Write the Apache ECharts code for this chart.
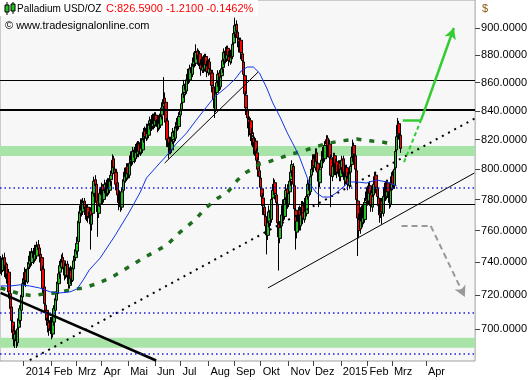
<!DOCTYPE html>
<html><head><meta charset="utf-8">
<script src="https://cdn.jsdelivr.net/npm/echarts@6/dist/echarts.min.js"></script>
<style>html,body{margin:0;padding:0;background:#fff}#c{width:530px;height:380px}</style>
</head><body><div id="c"></div>
<script>
// ---- data ----
const opens=[736,741,735,743,734,739,730,734,721,713,704,699,694,698,692,701,705,711,719,728,729,734,728,737,739,745,740,747,742,749,744,751,749,745,743,736,725,714,711,705,704,699,705,697,704,711,717,721,727,734,737,743,741,737,732,739,732,726,735,729,736,742,743,747,753,765,771,777,772,779,775,770,775,768,773,764,771,784,793,790,779,771,777,783,789,780,787,791,784,792,786,793,797,807,800,798,791,782,779,783,775,786,792,799,794,802,796,805,810,805,813,807,815,810,817,811,819,813,821,826,821,829,823,831,834,829,836,830,837,834,828,835,830,837,843,849,846,833,821,814,819,813,820,826,821,829,833,829,837,841,846,853,859,854,863,867,862,871,866,873,879,874,883,876,881,873,869,877,870,879,872,867,875,869,867,857,847,841,853,861,867,857,865,871,877,883,877,885,879,875,882,879,889,897,903,897,892,885,891,881,875,865,851,841,834,827,833,823,821,814,819,811,805,799,794,787,781,775,769,762,757,766,773,767,781,787,791,783,777,764,755,763,771,777,769,781,787,777,785,793,799,802,789,773,759,767,773,763,771,776,767,779,771,783,791,785,796,801,807,801,811,804,797,791,801,807,813,807,817,821,811,817,807,795,803,809,799,805,797,804,795,801,807,797,792,801,794,789,798,803,809,816,809,799,779,767,761,773,765,775,767,779,786,779,789,783,775,783,791,796,787,781,775,771,779,771,783,789,782,791,784,777,787,796,789,801,813,823,831,823];
const closes=[740,736,742,735,738,731,733,722,712,705,698,695,697,693,700,706,712,720,727,730,733,729,736,740,744,741,746,743,748,745,750,748,744,742,735,724,715,710,706,703,700,704,698,705,712,718,722,728,733,738,742,740,736,733,738,731,727,734,730,737,741,744,748,752,766,772,776,773,778,774,771,774,769,772,765,770,785,792,789,778,772,776,784,788,781,786,790,785,791,787,792,796,806,801,797,790,783,778,782,776,785,793,798,795,801,797,804,809,806,812,808,814,811,816,812,818,814,820,825,822,828,824,830,833,830,835,831,836,833,829,834,831,836,842,848,845,832,820,815,818,814,819,825,822,828,832,830,836,840,845,852,858,855,862,866,863,870,867,872,878,875,882,877,880,874,870,876,871,878,873,868,874,870,866,858,848,842,852,860,866,858,864,870,876,882,878,884,880,876,881,878,888,896,902,898,893,886,890,882,876,866,852,842,835,828,832,824,822,815,818,812,806,800,795,788,782,776,770,763,758,765,772,768,780,786,790,784,778,765,756,762,770,776,770,780,786,778,784,792,798,803,790,774,760,766,772,764,770,775,768,778,772,782,790,786,795,800,806,802,810,805,798,792,800,806,812,808,816,820,812,816,808,796,802,808,800,804,798,803,796,800,806,798,793,800,795,790,797,802,808,815,810,800,780,768,760,772,766,774,768,778,785,780,788,784,776,782,790,795,788,782,776,770,778,772,782,788,783,790,785,778,786,795,790,800,812,822,830,824,814];
const lows=[733,732,734,731,730,727,726,718,709,701,694,690,689,689,690,698,703,709,717,724,726,725,727,733,736,737,738,739,740,741,742,744,740,738,731,720,711,705,702,698,696,697,694,695,702,709,714,719,725,730,735,736,732,729,730,727,724,724,727,728,734,739,741,745,751,762,768,769,770,770,767,766,765,764,748,760,769,782,785,774,756,768,775,780,777,778,784,782,782,783,784,789,795,797,792,786,779,773,775,772,773,783,789,791,792,793,794,801,802,803,804,805,807,808,808,809,810,811,818,818,819,820,821,827,826,827,827,828,829,825,826,827,828,834,840,839,828,815,807,810,810,811,817,818,819,825,826,827,833,838,843,849,851,852,859,859,860,863,864,869,871,872,873,872,870,865,867,867,868,869,864,865,866,861,853,843,835,839,850,857,854,855,861,867,873,874,875,876,872,873,874,877,886,893,893,888,882,882,877,871,861,847,837,830,822,823,819,816,810,809,807,801,795,789,783,776,770,764,757,745,754,762,763,765,777,783,780,773,760,735,752,760,767,766,767,777,774,775,782,789,795,786,770,748,755,763,760,760,767,764,765,768,769,780,782,783,792,797,798,799,801,794,775,788,797,803,804,805,813,808,808,804,775,792,799,796,796,794,795,792,792,797,794,789,790,791,786,787,794,799,805,806,796,776,744,755,758,762,762,764,765,775,776,777,780,772,772,779,787,784,778,772,765,768,764,769,779,779,780,781,774,775,784,786,787,798,810,819,820,811];
const highs=[744,743,745,746,741,740,737,736,724,715,707,702,701,700,703,709,714,722,730,734,737,736,739,743,747,747,749,749,751,751,753,754,751,748,745,738,727,717,713,708,706,707,707,708,714,720,725,731,736,741,745,746,743,740,741,741,735,737,738,740,744,747,751,756,769,775,780,780,781,781,778,777,777,775,775,773,788,795,796,792,781,779,787,791,790,789,793,793,794,794,795,799,810,809,803,800,793,785,786,785,788,796,801,801,804,804,807,812,812,815,815,817,818,819,819,821,821,823,828,829,831,831,833,836,837,838,838,839,839,837,837,838,839,846,864,853,848,835,824,822,822,822,828,829,831,835,836,839,844,849,856,862,862,865,870,870,873,874,876,882,883,888,885,884,883,877,879,880,881,881,876,877,878,873,869,860,851,855,863,869,869,867,873,879,885,886,887,887,883,884,885,891,899,908,906,901,895,893,893,884,877,867,854,845,838,836,835,828,825,822,821,814,808,803,797,790,784,779,773,766,768,776,776,783,790,794,793,786,780,767,766,773,780,780,783,790,790,787,795,801,806,804,792,776,770,775,776,773,779,779,781,782,785,793,794,798,803,810,810,814,814,807,800,803,809,815,816,819,823,823,819,820,810,805,811,811,807,807,806,806,803,809,809,800,803,803,798,800,805,811,820,818,812,802,782,771,775,776,777,778,781,788,789,791,792,786,785,793,798,798,790,784,778,781,781,785,791,792,793,793,787,789,798,799,803,815,825,835,833,826];

// moving averages: [slot, price]
const ma50=[[0,725.6],[8,725.6],[16,726.3],[24,725.6],[32,724.4],[41,722.0],[49,721.4],[57,722.0],[63,723.8],[68,729.3],[73,735.4],[82,742.8],[94,756.6],[106,771.9],[115,784.9],[120,794.1],[128,801.4],[137,809.5],[145,817.6],[153,824.5],[161,833.5],[170,843.3],[176,849.7],[186,856.9],[193,862.6],[198,868.4],[203,871.3],[208,871.3],[213,867.0],[219,856.2],[224,845.5],[230,835.6],[236,824.5],[242,814.9],[246,808.1],[250,799.4],[254,790.8],[260,784.2],[265,781.6],[271,781.6],[276,784.2],[281,787.5],[287,791.5],[293,791.5],[301,790.8],[309,792.8],[318,791.5],[326,788.9]];
const ma200=[[0,724.4],[8,722.6],[16,720.8],[27,719.6],[35,720.8],[46,721.4],[57,723.2],[68,724.4],[79,726.9],[92,731.1],[104,736.6],[115,741.6],[125,745.9],[137,750.9],[147,758.5],[160,766.8],[168,773.9],[179,781.0],[187,784.9],[195,792.8],[201,797.4],[207,800.1],[213,803.4],[220,804.8],[232,808.1],[239,810.2],[246,811.5],[254,813.6],[267,817.0],[279,819.0],[293,820.4],[306,819.0],[314,818.4],[322,817.0]];

// drawn lines (slot, price)
const trendDown=[[0,721.4],[128,681.8]];
const trendUpLow=[[220,724.4],[390,797.5]];
const trendUpMid=[[135,804.1],[212,867.7]];
const trendDotted=[[24,682.0],[390,834.5]];
const greenDash=[[332,804.8],[346,833.5]];
const greenFlat=[[331,833.5],[346,833.5]];
const greenArrow=[[346,833.5],[373,900.2]];
const grayFlat=[[330,762.9],[354,762.9]];
const grayArrow=[[354,762.9],[382,719.0]];

const blackThin=[862,777];
const blackThick=[841];
const blueDotted=[787.5,709.4,685.6];
const bands=[[815.6,808.8],[694.9,689.1]];

const yTicks=[700,720,740,760,780,800,820,840,860,880,900];
const tickMonths=['2014-01','2014-02','2014-03','2014-04','2014-05','2014-06','2014-07','2014-08','2014-09','2014-10','2014-11','2014-12','2015-01','2015-02','2015-03','2015-04'];
const tickLabels=['2014','Feb','Mrz','Apr','Mai','Jun','Jul','Aug','Sep','Okt','Nov','Dez','2015','Feb','Mrz','Apr'];
const yMin=681.5, yMax=921.5;
const totalSlots=391;

// ---- build ----
const L=Math.log;
const cats=[];
let d=new Date(Date.UTC(2013,11,5));
while(cats.length<totalSlots){
  const wd=d.getUTCDay();
  if(cats.length>=closes.length || (wd!==0 && wd!==6)) cats.push(d.toISOString().slice(0,10));
  d=new Date(d.getTime()+86400000);
}
const tickMap={}; const seen={};
cats.forEach((c,i)=>{const ym=c.slice(0,7); if(!seen[ym]){seen[ym]=1; const k=tickMonths.indexOf(ym); if(k>=0) tickMap[i]=tickLabels[k];}});
const candle=closes.map((c,i)=>[L(opens[i]),L(c),L(lows[i]),L(highs[i])]);
const P=a=>a.map(p=>[p[0],L(p[1])]);
const seg=(a,style,arrow)=>[{coord:[a[0][0],L(a[0][1])],symbol:'none',lineStyle:style},{coord:[a[1][0],L(a[1][1])],symbol:arrow?'arrow':'none'}];
const lineS=(data,style,z)=>({type:'line',data:P(data),symbol:'none',silent:true,lineStyle:style,z:z||4});

const chart=echarts.init(document.getElementById('c'),null,{renderer:'canvas'});
chart.setOption({
  animation:false,
  backgroundColor:'#ffffff',
  textStyle:{fontFamily:'Liberation Sans'},
  grid:{left:0,top:0,width:476,height:361,show:true,backgroundColor:'#f7f7f7',borderColor:'#a0a0a0',borderWidth:1},
  xAxis:{type:'category',data:cats,boundaryGap:true,
    axisLine:{show:false},splitLine:{show:false},
    axisTick:{show:true,interval:(i)=>tickMap[i]!==undefined,alignWithLabel:true,length:5,lineStyle:{color:'#444'}},
    axisLabel:{interval:(i)=>tickMap[i]!==undefined,formatter:(v,i)=>tickMap[i]||'',align:'left',margin:5,padding:[0,0,0,2],fontSize:11,fontFamily:'Liberation Sans',color:'#000'}},
  yAxis:{type:'value',position:'right',min:L(yMin),max:L(yMax),
    axisLine:{show:false},splitLine:{show:false},
    axisTick:{show:true,length:5,customValues:yTicks.map(L),lineStyle:{color:'#444'}},
    axisLabel:{customValues:yTicks.map(L),formatter:v=>Math.round(Math.exp(v)).toFixed(4),margin:6,fontSize:11,fontFamily:'Liberation Sans',color:'#000'}},
  series:[
    {type:'candlestick',data:candle,barWidth:3,silent:true,z:2,
     itemStyle:{color:'#22c022',color0:'#ff0000',borderColor:'#000',borderColor0:'#000',borderWidth:1},
     markArea:{silent:true,itemStyle:{color:'#a8e4a8'},data:bands.map(b=>[{yAxis:L(b[0])},{yAxis:L(b[1])}])}},
    Object.assign(lineS(trendUpLow,{color:'#000',width:1}),{
      markLine:{silent:true,precision:10,symbol:['none','none'],label:{show:false},
        data:[].concat(
          blackThin.map(v=>({yAxis:L(v),lineStyle:{color:'#000',width:1,type:'solid'}})),
          blackThick.map(v=>({yAxis:L(v),lineStyle:{color:'#000',width:2.2,type:'solid'}})),
          blueDotted.map(v=>({yAxis:L(v),lineStyle:{color:'#1a1ad6',width:1.5,type:[1.5,3]}}))
        )}}),
    lineS(trendDown,{color:'#000',width:2.6}),
    lineS(trendUpMid,{color:'#000',width:1}),
    lineS(trendDotted,{color:'#000',width:2,type:[2,5]}),
    lineS(ma200,{color:'#1d6e1d',width:3.5,type:[5,8]},5),
    Object.assign(lineS(ma50,{color:'#1434e6',width:1},6),{
      markLine:{silent:true,precision:10,label:{show:false},symbolSize:[9,11],
        data:[
          seg(greenDash,{color:'#33cc33',width:2,type:[4,3]}),
          seg(greenFlat,{color:'#33cc33',width:2.5,type:'solid'}),
          seg(greenArrow,{color:'#33cc33',width:2.5,type:'solid'},true),
          seg(grayFlat,{color:'#999',width:2,type:[6,4]}),
          seg(grayArrow,{color:'#999',width:2,type:[6,4]},true)
        ]}})
  ],
  graphic:[
    {type:'rect',shape:{x:0,y:0,width:258,height:16},style:{fill:'#ffffff'},z:100,silent:true},
    {type:'rect',shape:{x:6.5,y:2,width:1,height:13},style:{fill:'#000'},z:101},
    {type:'rect',shape:{x:5,y:5,width:4,height:7},style:{fill:'#22c022',stroke:'#000',lineWidth:1},z:102},
    {type:'rect',shape:{x:12.5,y:2,width:1,height:12},style:{fill:'#000'},z:101},
    {type:'rect',shape:{x:11,y:4,width:4,height:7},style:{fill:'#22c022',stroke:'#000',lineWidth:1},z:102},
    {type:'text',x:17,y:9,z:103,style:{text:'Palladium USD/OZ',fontSize:10,fontFamily:'Liberation Sans',fill:'#000',verticalAlign:'middle'}},
    {type:'text',x:106,y:9,z:103,style:{text:'C:826.5900 -1.2100 -0.1462%',fontSize:11,fontFamily:'Liberation Sans',fill:'#ff0000',verticalAlign:'middle'}},
    {type:'text',x:5,y:26,z:103,style:{text:'© www.tradesignalonline.com',fontSize:11,fontFamily:'Liberation Sans',fill:'#000',verticalAlign:'middle'}},
    {type:'text',x:482,y:9,z:103,style:{text:'$',fontSize:11,fontFamily:'Liberation Sans',fill:'#8a5a10',verticalAlign:'middle'}}
  ]
});
</script>
</body></html>
